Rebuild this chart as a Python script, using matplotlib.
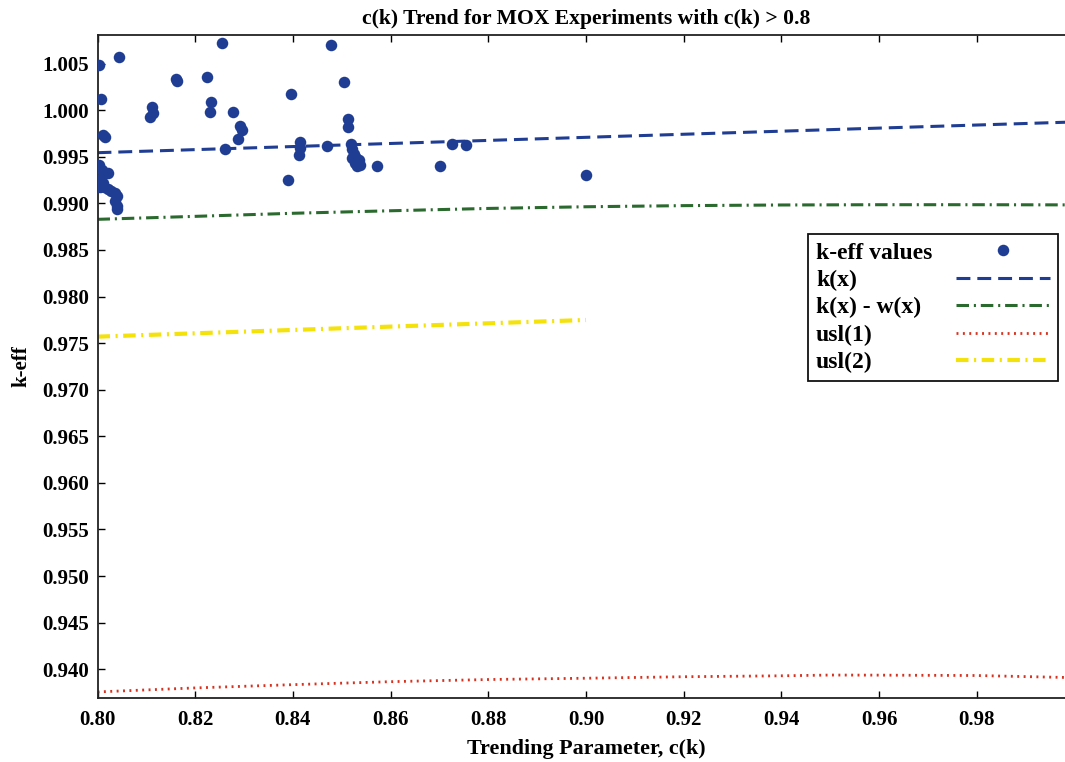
import matplotlib
matplotlib.use("Agg")
import matplotlib.pyplot as plt
from matplotlib.offsetbox import DrawingArea
from matplotlib.font_manager import FontProperties

plt.rcParams['font.family'] = ['Liberation Serif', 'DejaVu Serif']
plt.rcParams['font.weight'] = 'bold'
plt.rcParams['lines.scale_dashes'] = False

# ---- data ----
ck = [0.8003, 0.8043, 0.8007, 0.8011, 0.8016,
      0.8004, 0.8009, 0.8016, 0.8022, 0.8004, 0.8012, 0.8005, 0.8013, 0.8022,
      0.8028, 0.8035, 0.8040, 0.8036, 0.8040, 0.8039,
      0.8108, 0.8113, 0.8112, 0.8160, 0.8162, 0.8224, 0.8232, 0.8230, 0.8254,
      0.8278, 0.8292, 0.8295, 0.8288, 0.8260,
      0.8479, 0.8505, 0.8396, 0.8389, 0.8414, 0.8414, 0.8412, 0.8469,
      0.8513, 0.8513, 0.8518, 0.8522, 0.8526, 0.8530, 0.8520, 0.8536, 0.8528,
      0.8538, 0.8532, 0.8572, 0.8701, 0.8725, 0.8754, 0.9001]
keff = [1.0048, 1.0057, 1.0012, 0.9973, 0.9971,
        0.9941, 0.9936, 0.9933, 0.9932, 0.9925, 0.9922, 0.9918, 0.9917, 0.9915,
        0.9913, 0.9911, 0.9908, 0.9902, 0.9897, 0.9894,
        0.9993, 0.9997, 1.0003, 1.0033, 1.0031, 1.0035, 1.0009, 0.9998, 1.0072,
        0.9998, 0.9983, 0.9979, 0.9969, 0.9958,
        1.0070, 1.0030, 1.0017, 0.9925, 0.9966, 0.9959, 0.9952, 0.9961,
        0.9991, 0.9982, 0.9964, 0.9958, 0.9953, 0.9949, 0.9949, 0.9946, 0.9943,
        0.9941, 0.9940, 0.9940, 0.9940, 0.9964, 0.9963, 0.9930]

kx_x = [0.80, 1.00]
kx_y = [0.99543, 0.99873]

kw_x = [0.80, 0.82, 0.84, 0.86, 0.88, 0.90, 0.92, 0.94, 0.96, 0.98, 1.00]
kw_y = [0.98828, 0.98860, 0.98893, 0.98920, 0.98945, 0.98963, 0.98975,
        0.98982, 0.98985, 0.98985, 0.98983]

usl1_x = [0.80, 0.82, 0.84, 0.86, 0.88, 0.90, 0.92, 0.94, 0.95, 0.96, 0.98, 1.00]
usl1_y = [0.93757, 0.93800, 0.93835, 0.93867, 0.93890, 0.93904, 0.93920,
          0.93930, 0.93938, 0.93937, 0.93933, 0.93910]

usl2_x = [0.80, 0.85, 0.90]
usl2_y = [0.97569, 0.97659, 0.97748]

xticks = [0.80, 0.82, 0.84, 0.86, 0.88, 0.90, 0.92, 0.94, 0.96, 0.98]
yticks = [0.940, 0.945, 0.950, 0.955, 0.960, 0.965, 0.970, 0.975, 0.980,
          0.985, 0.990, 0.995, 1.000, 1.005]

# ---- figure ----
W, H = 1065, 762
fig = plt.figure(figsize=(W / 100, H / 100), dpi=100)
ax = fig.add_axes([97.5 / W, 1 - 697.7 / H, (1074.5 - 97.5) / W, (697.7 - 35) / H])

blue = '#1f3d92'
green = '#2b6a2e'
red = '#d8321f'
yellow = '#f4e20c'

ax.plot(ck, keff, 'o', color=blue, markersize=8.3, markeredgewidth=0,
        label='k-eff values', zorder=5)
ax.plot(kx_x, kx_y, color=blue, lw=2.2, dashes=(10, 5), label='k(x)')
ax.plot(kw_x, kw_y, color=green, lw=2.2, dashes=(9, 3.5, 1.5, 3.5),
        label='k(x) - w(x)')
ax.plot(usl1_x, usl1_y, color=red, lw=2.0, dashes=(1.4, 3.2), label='usl(1)')
ax.plot(usl2_x, usl2_y, color=yellow, lw=3.0, dashes=(9, 4, 1.5, 4),
        label='usl(2)')

ax.set_xlim(0.80, 1.00)
ax.set_ylim(0.93695, 1.00806)
ax.set_xticks(xticks)
ax.set_xticklabels([f'{v:.2f}' for v in xticks])
ax.set_yticks(yticks)
ax.set_yticklabels([f'{v:.3f}' for v in yticks])

fs = 15
ax.tick_params(axis='both', direction='in', top=True, right=True, length=5,
               width=1, labelsize=fs)
ax.tick_params(axis='x', pad=9)
ax.tick_params(axis='y', pad=6)
for sp in ax.spines.values():
    sp.set_linewidth(1.3)
    sp.set_color('#222222')

ax.set_title('c(k) Trend for MOX Experiments with c(k) > 0.8', fontsize=15.6,
             fontweight='bold', pad=8)
ax.set_xlabel('Trending Parameter, c(k)', fontsize=15.8, fontweight='bold',
              labelpad=6)
ax.set_ylabel('k-eff', fontsize=fs, fontweight='bold', labelpad=8)

lprop = FontProperties(family=['Liberation Serif', 'DejaVu Serif'],
                       weight='bold', size=17)
leg = ax.legend(loc='upper left', bbox_to_anchor=(808 / W, 1 - 234 / H),
                bbox_transform=fig.transFigure, borderaxespad=0,
                markerfirst=False, fancybox=False, framealpha=1,
                edgecolor='#111111', handlelength=4.0,
                handletextpad=0.5, labelspacing=0.25, borderpad=0.34,
                prop=lprop)
leg.get_frame().set_linewidth(1.3)
for t in leg.get_texts():
    t.set_fontweight('bold')

# left-align the legend texts while keeping the handles in one column
fig.canvas.draw()
renderer = fig.canvas.get_renderer()
texts = leg.get_texts()
widths = [t.get_window_extent(renderer).width for t in texts]
maxw = max(widths)
i = 0
for col in leg._legend_handle_box.get_children():
    for row in col.get_children():
        kids = row.get_children()
        spacer = DrawingArea((maxw - widths[i]) * 72.0 / fig.dpi, 1)
        row._children = [kids[0], spacer, kids[1]]
        i += 1
    col.align = 'left'

fig.savefig('out.png', dpi=100, facecolor='white')
